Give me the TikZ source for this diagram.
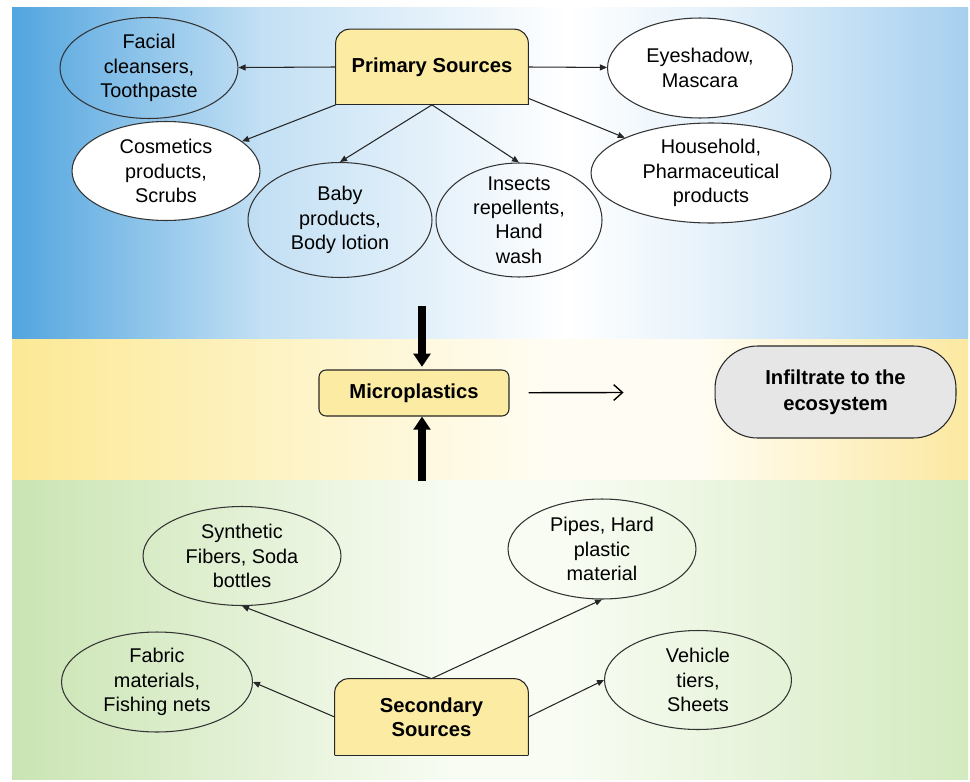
\documentclass[tikz,border=0pt]{standalone}
\usepackage{fontspec}
\setmainfont{Liberation Sans}
\usetikzlibrary{arrows.meta,shapes.geometric,backgrounds}

\definecolor{skyleft}{HTML}{52A5DF}
\definecolor{skyright}{HTML}{A6D0EF}
\definecolor{sandleft}{HTML}{FCE995}
\definecolor{sandright}{HTML}{FCE8A0}
\definecolor{sandmid}{HTML}{FFFDF3}
\definecolor{leafleft}{HTML}{CAE4B3}
\definecolor{leafright}{HTML}{D3EABF}
\definecolor{leafmid}{HTML}{F8FCF3}
\definecolor{boxyellow}{HTML}{FCEBA3}
\definecolor{boxgrey}{HTML}{E6E6E6}

\pgfdeclarehorizontalshading{skyband}{100bp}{color(0bp)=(skyleft); color(25bp)=(skyleft);
  color(38bp)=(skyleft!35!white); color(54bp)=(white); color(62bp)=(skyright!30!white);
  color(75bp)=(skyright); color(100bp)=(skyright)}
\pgfdeclarehorizontalshading{sandband}{100bp}{color(0bp)=(sandleft); color(25bp)=(sandleft);
  color(53bp)=(sandmid); color(61bp)=(sandmid); color(75bp)=(sandright); color(100bp)=(sandright)}
\pgfdeclarehorizontalshading{leafband}{100bp}{color(0bp)=(leafleft); color(25bp)=(leafleft);
  color(48bp)=(leafmid); color(54bp)=(leafmid); color(75bp)=(leafright); color(100bp)=(leafright)}

\begin{document}
\begin{tikzpicture}[x=0.02cm, y=-0.02cm,
    every node/.style={font=\fontsize{11.3}{13.8}\selectfont},
    item/.style={ellipse, draw=black!80, line width=0.6pt, inner sep=0pt, align=center},
    whiteitem/.style={item, fill=white},
    source/.style={inner sep=0pt, align=center, font=\fontsize{11.5}{13.5}\selectfont\bfseries},
    hub/.style={source, draw=black!85, fill=boxyellow, line width=0.6pt, rounded corners=4pt,
        minimum width=3.8cm, minimum height=0.92cm},
    outlet/.style={source, draw=black!85, fill=boxgrey, line width=0.6pt, rounded corners=0.85cm,
        minimum width=4.82cm, minimum height=1.84cm},
    arrow/.style={-{Triangle[length=4pt,width=3.4pt]}, line width=0.6pt, draw=black!85},
    bigarrow/.style={-{Triangle[length=7.5pt,width=9.5pt]}, line width=4.5pt},
    flow/.style={-{Straight Barb[length=5pt,width=9pt]}, line width=0.8pt}
]
\useasboundingbox (0,0) rectangle (970,781);

% bands
\begin{scope}[on background layer]
\shade[shading=skyband] (12,7) rectangle (968,338);
\shade[shading=sandband] (12,339) rectangle (968,480);
\shade[shading=leafband] (12,480) rectangle (968,779);
\end{scope}

% primary sources
\node[source, minimum width=3.84cm, minimum height=1.5cm] at (432,67) (prim) {Primary Sources};
\node[item, minimum width=3.56cm, minimum height=2.02cm] at (149,68) (facial) {Facial\\cleansers,\\Toothpaste};
\node[whiteitem, minimum width=3.76cm, minimum height=1.98cm] at (166,171) (cosm) {Cosmetics\\products,\\Scrubs};
\node[item, minimum width=3.68cm, minimum height=2.30cm] at (340,220) (baby) {Baby\\products,\\Body lotion};
\node[item, inner ysep=-6pt, minimum width=3.32cm, minimum height=2.28cm] at (519,220) (insect) {Insects\\repellents,\\Hand\\wash};
\node[whiteitem, minimum width=3.70cm, minimum height=2.00cm] at (700,68) (eye) {Eyeshadow,\\Mascara};
\node[whiteitem, minimum width=4.80cm, minimum height=2.00cm] at (711,173) (house) {Household,\\Pharmaceutical\\products};

\draw[arrow] (prim.west) -- (facial);
\draw[arrow] (prim.south west) -- (cosm);
\draw[arrow] (prim.south) -- (baby.north);
\draw[arrow] (prim.south) -- (insect.north);
\draw[arrow] (prim.east) -- (eye);
\draw[arrow] (prim.-18) -- (house);

% middle
\node[hub] at (414,393) (micro) {Microplastics};
\node[outlet] at (835.5,392) (eco) {Infiltrate to the\\[1.5pt]ecosystem};
\coordinate (fromtop) at (422,306);
\coordinate (frombottom) at (422,481);

\draw[bigarrow, shorten >=1.5pt] (fromtop) -- (fromtop |- micro.north);
\draw[bigarrow] (frombottom) -- (frombottom |- micro.south);
\draw[flow, shorten <=0.38cm, shorten >=1.82cm] (micro) -- (eco);

% secondary sources
\node[source, minimum width=3.86cm, minimum height=1.52cm] at (431.5,717) (sec) {Secondary\\Sources};
\node[item, minimum width=3.96cm, minimum height=1.98cm] at (242,556) (synth) {Synthetic\\Fibers, Soda\\bottles};
\node[item, minimum width=3.82cm, minimum height=2.00cm] at (157,682) (fabric) {Fabric\\materials,\\Fishing nets};
\node[item, minimum width=3.76cm, minimum height=2.00cm] at (602,549) (pipes) {Pipes, Hard\\plastic\\material};
\node[item, minimum width=3.74cm, minimum height=1.98cm] at (698,680) (vehicle) {Vehicle\\tiers,\\Sheets};

\draw[arrow] (sec.west) -- (fabric.east);
\draw[arrow] (sec.north) -- (synth.south);
\draw[arrow] (sec.north) -- (pipes.south);
\draw[arrow] (sec.east) -- (vehicle.west);

% source boxes, round on top only
\begin{scope}[on background layer]
\foreach \b in {prim,sec}{
  \filldraw[fill=boxyellow, draw=black!85, line width=0.6pt, rounded corners=8pt]
    (\b.south west) -- (\b.north west) -- (\b.north east) -- (\b.south east);
  \draw[black!85, line width=0.6pt] (\b.south west) -- (\b.south east);
}
\end{scope}
\end{tikzpicture}
\end{document}
